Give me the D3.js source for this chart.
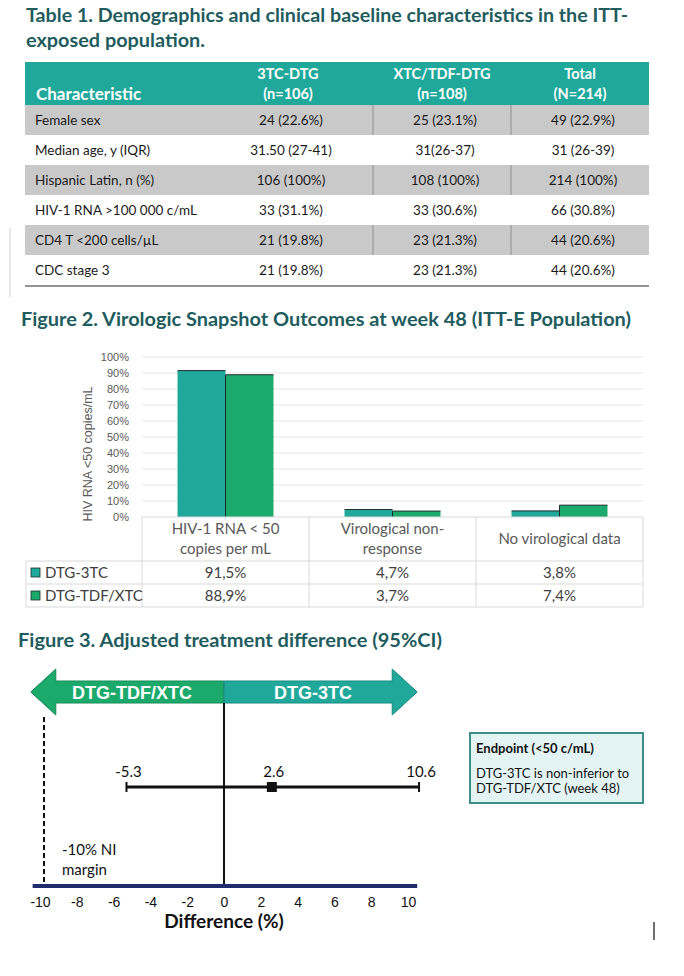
<!DOCTYPE html>
<html><head><meta charset="utf-8">
<script src="https://cdn.jsdelivr.net/npm/d3@7"></script>
<style>body{margin:0;background:#fff}</style>
</head><body><svg id="c" width="684" height="976"></svg>
<script>
// ---------- Table 1 data ----------
const tableTitle = ["Table 1. Demographics and clinical baseline characteristics in the ITT-", "exposed population."];
const tableHeaders = [["Characteristic"], ["3TC-DTG", "(n=106)"], ["XTC/TDF-DTG", "(n=108)"], ["Total", "(N=214)"]];
const characteristics = ["Female sex", "Median age, y (IQR)", "Hispanic Latin, n (%)", "HIV-1 RNA >100 000 c/mL", "CD4 T <200 cells/µL", "CDC stage 3"];
const col3TC = ["24 (22.6%)", "31.50 (27-41)", "106 (100%)", "33 (31.1%)", "21 (19.8%)", "21 (19.8%)"];
const colXTC = ["25 (23.1%)", "31(26-37)", "108 (100%)", "33 (30.6%)", "23 (21.3%)", "23 (21.3%)"];
const colTotal = ["49 (22.9%)", "31 (26-39)", "214 (100%)", "66 (30.8%)", "44 (20.6%)", "44 (20.6%)"];

// ---------- Figure 2 data ----------
const fig2Title = "Figure 2. Virologic Snapshot Outcomes at week 48 (ITT-E Population)";
const outcomeCategories = [["HIV-1 RNA < 50", "copies per mL"], ["Virological non-", "response"], ["No virological data"]];
const seriesNames = ["DTG-3TC", "DTG-TDF/XTC"];
const dtg3tc = [91.5, 4.7, 3.8];
const dtgTdfXtc = [88.9, 3.7, 7.4];
const yTicks = [0, 10, 20, 30, 40, 50, 60, 70, 80, 90, 100];
const yAxisTitle = "HIV RNA <50 copies/mL";

// ---------- Figure 3 data ----------
const fig3Title = "Figure 3. Adjusted treatment difference (95%CI)";
const ciLower = -5.3, pointEst = 2.6, ciUpper = 10.6;
const niMargin = -10;
const diffTicks = [-10, -8, -6, -4, -2, 0, 2, 4, 6, 8, 10];
const arrowLabels = ["DTG-TDF/XTC", "DTG-3TC"];
const endpointLines = ["Endpoint (<50 c/mL)", "DTG-3TC is non-inferior to", "DTG-TDF/XTC (week 48)"];

// ---------- styles ----------
const TEAL = "#20A89B", GREEN = "#1BAA6B", TITLE = "#1E5C5D", GRAYROW = "#C9C9C9", NAVY = "#1F2C6B";
const CAL = "Lato, 'Open Sans', sans-serif", ARIAL = "'Liberation Sans', Arial, sans-serif";

const svg = d3.select("#c");
svg.append("rect").attr("width", 684).attr("height", 976).attr("fill", "#fff");

function title(txt, x, y, len) {
  svg.append("text").attr("x", x).attr("y", y).text(txt)
    .attr("font-family", CAL).attr("font-weight", 700).attr("font-size", 18)
    .attr("fill", TITLE).attr("textLength", len).attr("lengthAdjust", "spacingAndGlyphs");
}

// ================= TABLE 1 =================
title(tableTitle[0], 26, 22, 602);
title(tableTitle[1], 26, 47, 179);

const colEdges = [25, 203, 373, 511, 649];
const rowTop = 105, rowH = 30;
const rowY = d3.scaleBand().domain(d3.range(characteristics.length)).range([rowTop, rowTop + rowH * characteristics.length]);

svg.append("rect").attr("x", 25).attr("y", 62).attr("width", 624).attr("height", 43).attr("fill", TEAL);
tableHeaders.forEach((h, i) => {
  if (i === 0) {
    svg.append("text").attr("x", 36).attr("y", 100).text(h[0])
      .attr("font-family", CAL).attr("font-weight", 700).attr("font-size", 17).attr("fill", "#fff");
  } else {
    const cx = (colEdges[i] + colEdges[i + 1]) / 2;
    h.forEach((t, j) => svg.append("text").attr("x", cx).attr("y", j === 0 ? 79 : 99).text(t)
      .attr("text-anchor", "middle").attr("font-family", CAL).attr("font-weight", 700)
      .attr("font-size", 14.5).attr("fill", "#fff"));
  }
});

characteristics.forEach((c, i) => {
  const y0 = rowY(i);
  if (i % 2 === 0) {
    svg.append("rect").attr("x", 25).attr("y", y0).attr("width", 624).attr("height", rowH).attr("fill", GRAYROW);
    [373, 511].forEach(x => svg.append("line").attr("x1", x).attr("x2", x).attr("y1", y0).attr("y2", y0 + rowH)
      .attr("stroke", "#8f8f8f").attr("stroke-width", 1));
  }
  const by = y0 + rowH / 2 + 5;
  svg.append("text").attr("x", 35).attr("y", by).text(c)
    .attr("font-family", CAL).attr("font-size", 13.5).attr("fill", "#1a1a1a");
  [col3TC, colXTC, colTotal].forEach((col, k) => {
    const cx = (colEdges[k + 1] + colEdges[k + 2]) / 2 + 3;
    svg.append("text").attr("x", cx).attr("y", by).text(col[i]).attr("text-anchor", "middle")
      .attr("font-family", CAL).attr("font-size", 13.5).attr("fill", "#1a1a1a");
  });
});
svg.append("line").attr("x1", 25).attr("x2", 649).attr("y1", 286).attr("y2", 286).attr("stroke", "#2b2b2b").attr("stroke-width", 1.2);
svg.append("line").attr("x1", 10).attr("x2", 10).attr("y1", 228).attr("y2", 297).attr("stroke", "#d0d0d0").attr("stroke-width", 1);

// ================= FIGURE 2 =================
title(fig2Title, 21, 326, 610);

const chartL = 142, chartR = 643, yTop = 357, yBot = 517;
const y = d3.scaleLinear().domain([0, 100]).range([yBot, yTop]);
const x0 = d3.scaleBand().domain(d3.range(outcomeCategories.length)).range([chartL, chartR]).paddingInner(0).paddingOuter(0);
const x1 = d3.scaleBand().domain(seriesNames).range([0, x0.bandwidth()]).paddingInner(0).paddingOuter(0.74);
const seriesVals = [dtg3tc, dtgTdfXtc];
const seriesCol = [TEAL, GREEN];

// gridlines
svg.append("g").selectAll("line").data(yTicks.filter(t => t > 0)).join("line")
  .attr("x1", chartL).attr("x2", chartR).attr("y1", d => y(d)).attr("y2", d => y(d))
  .attr("stroke", "#E6E6E6").attr("stroke-width", 1);

// y axis
const yAxis = d3.axisLeft(y).tickValues(yTicks).tickFormat(d => d + "%").tickSize(0).tickPadding(0);
const gy = svg.append("g").attr("transform", "translate(129,0)").call(yAxis);
gy.select(".domain").remove();
gy.selectAll("text").attr("font-family", ARIAL).attr("font-size", 11).attr("fill", "#595959");

svg.append("text").attr("transform", `translate(92,454) rotate(-90)`).attr("text-anchor", "middle")
  .text(yAxisTitle).attr("font-family", ARIAL).attr("font-size", 12.5).attr("fill", "#595959");

// bars
seriesNames.forEach((s, si) => {
  const g = svg.append("g");
  g.selectAll("rect").data(seriesVals[si]).join("rect")
    .attr("x", (d, i) => x0(i) + x1(s)).attr("width", x1.bandwidth())
    .attr("y", d => y(d)).attr("height", d => yBot - y(d)).attr("fill", seriesCol[si]);
  g.selectAll("path").data(seriesVals[si]).join("path")
    .attr("d", (d, i) => {
      const xa = x0(i) + x1(s), xb = xa + x1.bandwidth();
      return si === 1 ? `M${xa},${yBot}V${y(d)}H${xb}` : `M${xa},${y(d)}H${xb}`;
    })
    .attr("fill", "none").attr("stroke", "#1d2d2b").attr("stroke-width", 1);
});

// data table under chart
const tRow1 = 561, tRow2 = 584, tBot = 607;
const lineC = "#D9D9D9";
const tl = svg.append("g").attr("stroke", lineC).attr("stroke-width", 1);
tl.append("line").attr("x1", chartL).attr("x2", chartR).attr("y1", yBot).attr("y2", yBot);
[tRow1, tRow2, tBot].forEach(yy => tl.append("line").attr("x1", 26).attr("x2", chartR).attr("y1", yy).attr("y2", yy));
outcomeCategories.forEach((c, i) => tl.append("line").attr("x1", x0(i)).attr("x2", x0(i)).attr("y1", yBot).attr("y2", tBot));
tl.append("line").attr("x1", chartR).attr("x2", chartR).attr("y1", yBot).attr("y2", tBot);
tl.append("line").attr("x1", 26).attr("x2", 26).attr("y1", tRow1).attr("y2", tBot);

outcomeCategories.forEach((c, i) => {
  const cx = x0(i) + x0.bandwidth() / 2;
  const lines = c;
  const startY = lines.length === 1 ? 544 : 534;
  lines.forEach((t, j) => svg.append("text").attr("x", cx).attr("y", startY + j * 20).text(t)
    .attr("text-anchor", "middle").attr("font-family", CAL).attr("font-size", 15).attr("fill", "#595959"));
});
const fmt = v => v.toFixed(1).replace(".", ",") + "%";
seriesNames.forEach((s, si) => {
  const cy = si === 0 ? (tRow1 + tRow2) / 2 : (tRow2 + tBot) / 2;
  svg.append("rect").attr("x", 31).attr("y", cy - 4.5).attr("width", 9).attr("height", 9)
    .attr("fill", seriesCol[si]).attr("stroke", "#1d2d2b").attr("stroke-width", 0.8);
  svg.append("text").attr("x", 45).attr("y", cy + 5.5).text(s)
    .attr("font-family", CAL).attr("font-size", 15).attr("fill", "#404040");
  seriesVals[si].forEach((v, i) => svg.append("text").attr("x", x0(i) + x0.bandwidth() / 2).attr("y", cy + 5.5)
    .text(fmt(v)).attr("text-anchor", "middle").attr("font-family", CAL).attr("font-size", 15).attr("fill", "#404040"));
});

// ================= FIGURE 3 =================
title(fig3Title, 18, 647, 424);

const xd = d3.scaleLinear().domain([-10, 10]).range([40, 408]);
const axisY = 886, arrowCY = 692;

// arrow
const tipL = xd(-10.5), tipR = xd(10.5), head = 25, hh = 23, sh = 11, zx = xd(0);
const leftPts = [[tipL, arrowCY], [tipL + head, arrowCY - hh], [tipL + head, arrowCY - sh], [zx, arrowCY - sh],
  [zx, arrowCY + sh], [tipL + head, arrowCY + sh], [tipL + head, arrowCY + hh]];
const rightPts = [[zx, arrowCY - sh], [tipR - head, arrowCY - sh], [tipR - head, arrowCY - hh], [tipR, arrowCY],
  [tipR - head, arrowCY + hh], [tipR - head, arrowCY + sh], [zx, arrowCY + sh]];
svg.append("polygon").attr("points", leftPts.map(p => p.join(",")).join(" ")).attr("fill", GREEN).attr("stroke", "#168a56").attr("stroke-width", 1);
svg.append("polygon").attr("points", rightPts.map(p => p.join(",")).join(" ")).attr("fill", TEAL).attr("stroke", "#188a80").attr("stroke-width", 1);
svg.append("text").attr("x", 132).attr("y", arrowCY + 6.5).text(arrowLabels[0]).attr("text-anchor", "middle")
  .attr("font-family", ARIAL).attr("font-weight", 700).attr("font-size", 18).attr("fill", "#fff");
svg.append("text").attr("x", 313).attr("y", arrowCY + 6.5).text(arrowLabels[1]).attr("text-anchor", "middle")
  .attr("font-family", ARIAL).attr("font-weight", 700).attr("font-size", 18).attr("fill", "#fff");

// zero line and NI margin
svg.append("line").attr("x1", zx).attr("x2", zx).attr("y1", arrowCY + sh).attr("y2", axisY).attr("stroke", "#111").attr("stroke-width", 2);
svg.append("line").attr("x1", xd(niMargin) + 4).attr("x2", xd(niMargin) + 4).attr("y1", arrowCY + hh + 2).attr("y2", axisY)
  .attr("stroke", "#111").attr("stroke-width", 2).attr("stroke-dasharray", "5,3");

// axis
svg.append("line").attr("x1", xd(-10.4)).attr("x2", xd(10.5)).attr("y1", axisY).attr("y2", axisY).attr("stroke", NAVY).attr("stroke-width", 4);
const gx = svg.append("g").attr("transform", `translate(0,${axisY})`)
  .call(d3.axisBottom(xd).tickValues(diffTicks).tickSize(0).tickPadding(11).tickFormat(d => d));
gx.select(".domain").remove();
gx.selectAll("text").attr("font-family", ARIAL).attr("font-size", 14).attr("fill", "#111");
svg.append("text").attr("x", zx).attr("y", 928).text("Difference (%)").attr("text-anchor", "middle")
  .attr("font-family", CAL).attr("font-weight", 700).attr("font-size", 19).attr("fill", "#111");

// CI
const ciY = 787;
svg.append("line").attr("x1", xd(ciLower)).attr("x2", xd(ciUpper)).attr("y1", ciY).attr("y2", ciY).attr("stroke", "#111").attr("stroke-width", 3);
[ciLower, ciUpper].forEach(v => svg.append("line").attr("x1", xd(v)).attr("x2", xd(v)).attr("y1", ciY - 5).attr("y2", ciY + 5)
  .attr("stroke", "#111").attr("stroke-width", 2));
svg.append("rect").attr("x", xd(pointEst) - 5).attr("y", ciY - 5).attr("width", 10).attr("height", 10).attr("fill", "#111");
[ciLower, pointEst, ciUpper].forEach(v => svg.append("text").attr("x", xd(v) + 2).attr("y", 777).text(v.toFixed(1))
  .attr("text-anchor", "middle").attr("font-family", CAL).attr("font-size", 15).attr("fill", "#111"));

svg.append("text").attr("x", 62).attr("y", 855).text(`${niMargin}% NI`).attr("font-family", CAL).attr("font-size", 15).attr("fill", "#111");
svg.append("text").attr("x", 62).attr("y", 875).text("margin").attr("font-family", CAL).attr("font-size", 15).attr("fill", "#111");

// endpoint box
svg.append("rect").attr("x", 470).attr("y", 733).attr("width", 173).attr("height", 70)
  .attr("fill", "#E4F4F4").attr("stroke", "#3B8E8C").attr("stroke-width", 2);
endpointLines.forEach((t, i) => svg.append("text").attr("x", 476).attr("y", i === 0 ? 753 : 763 + i * 15).text(t)
  .attr("font-family", CAL).attr("font-weight", i === 0 ? 700 : 400).attr("font-size", 13).attr("fill", "#111"));

// stray cursor mark
svg.append("line").attr("x1", 654).attr("x2", 654).attr("y1", 922).attr("y2", 940).attr("stroke", "#111").attr("stroke-width", 1.2);
</script></body></html>
